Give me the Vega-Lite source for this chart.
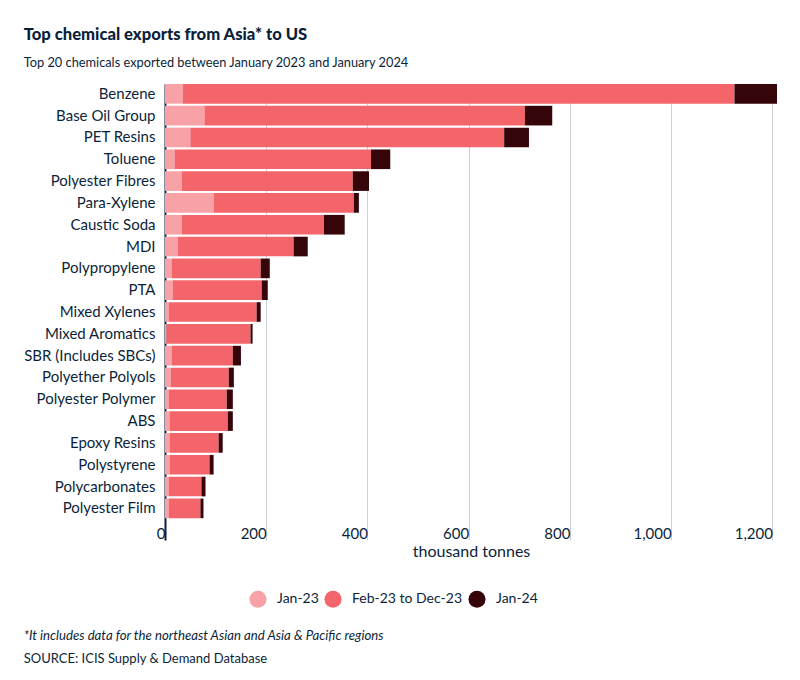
{
  "$schema": "https://vega.github.io/schema/vega-lite/v6.json",
  "background": "white",
  "padding": {"left": 23, "top": 26, "right": 10, "bottom": 10},
  "config": {
    "font": "Lato",
    "view": {"stroke": null},
    "title": {"color": "#0b1f3a"}
  },
  "title": {
    "text": "Top chemical exports from Asia* to US",
    "subtitle": "Top 20 chemicals exported between January 2023 and January 2024",
    "anchor": "start",
    "frame": "bounds",
    "fontSize": 16.6,
    "fontWeight": 900,
    "color": "#0b1f3a",
    "subtitleFontSize": 12.8,
    "subtitleColor": "#0b1f3a",
    "subtitlePadding": 14,
    "offset": 14
  },
  "vconcat": [
    {
      "width": 612,
      "height": 456,
      "title": {
        "text": "*It includes data for the northeast Asian and Asia & Pacific regions",
        "subtitle": "SOURCE: ICIS Supply & Demand Database",
        "orient": "bottom",
        "anchor": "start",
        "frame": "bounds",
        "fontSize": 13.2,
        "fontStyle": "italic",
        "fontWeight": "normal",
        "color": "#0b1f3a",
        "subtitleFontSize": 13,
        "subtitleColor": "#0b1f3a",
        "subtitlePadding": 10,
        "offset": 71
      },
      "data": {
        "values": [
          {"chemical": "Benzene", "period": "Jan-23", "k": 1, "value": 35},
          {"chemical": "Benzene", "period": "Feb-23 to Dec-23", "k": 2, "value": 1090},
          {"chemical": "Benzene", "period": "Jan-24", "k": 3, "value": 84},
          {"chemical": "Base Oil Group", "period": "Jan-23", "k": 1, "value": 78},
          {"chemical": "Base Oil Group", "period": "Feb-23 to Dec-23", "k": 2, "value": 633},
          {"chemical": "Base Oil Group", "period": "Jan-24", "k": 3, "value": 54},
          {"chemical": "PET Resins", "period": "Jan-23", "k": 1, "value": 50},
          {"chemical": "PET Resins", "period": "Feb-23 to Dec-23", "k": 2, "value": 620},
          {"chemical": "PET Resins", "period": "Jan-24", "k": 3, "value": 49},
          {"chemical": "Toluene", "period": "Jan-23", "k": 1, "value": 19},
          {"chemical": "Toluene", "period": "Feb-23 to Dec-23", "k": 2, "value": 388},
          {"chemical": "Toluene", "period": "Jan-24", "k": 3, "value": 38},
          {"chemical": "Polyester Fibres", "period": "Jan-23", "k": 1, "value": 33},
          {"chemical": "Polyester Fibres", "period": "Feb-23 to Dec-23", "k": 2, "value": 338},
          {"chemical": "Polyester Fibres", "period": "Jan-24", "k": 3, "value": 32},
          {"chemical": "Para-Xylene", "period": "Jan-23", "k": 1, "value": 96},
          {"chemical": "Para-Xylene", "period": "Feb-23 to Dec-23", "k": 2, "value": 277},
          {"chemical": "Para-Xylene", "period": "Jan-24", "k": 3, "value": 10},
          {"chemical": "Caustic Soda", "period": "Jan-23", "k": 1, "value": 33},
          {"chemical": "Caustic Soda", "period": "Feb-23 to Dec-23", "k": 2, "value": 281},
          {"chemical": "Caustic Soda", "period": "Jan-24", "k": 3, "value": 41},
          {"chemical": "MDI", "period": "Jan-23", "k": 1, "value": 25},
          {"chemical": "MDI", "period": "Feb-23 to Dec-23", "k": 2, "value": 229},
          {"chemical": "MDI", "period": "Jan-24", "k": 3, "value": 28},
          {"chemical": "Polypropylene", "period": "Jan-23", "k": 1, "value": 13},
          {"chemical": "Polypropylene", "period": "Feb-23 to Dec-23", "k": 2, "value": 176},
          {"chemical": "Polypropylene", "period": "Jan-24", "k": 3, "value": 18},
          {"chemical": "PTA", "period": "Jan-23", "k": 1, "value": 15},
          {"chemical": "PTA", "period": "Feb-23 to Dec-23", "k": 2, "value": 176},
          {"chemical": "PTA", "period": "Jan-24", "k": 3, "value": 12},
          {"chemical": "Mixed Xylenes", "period": "Jan-23", "k": 1, "value": 7},
          {"chemical": "Mixed Xylenes", "period": "Feb-23 to Dec-23", "k": 2, "value": 174},
          {"chemical": "Mixed Xylenes", "period": "Jan-24", "k": 3, "value": 8},
          {"chemical": "Mixed Aromatics", "period": "Jan-23", "k": 1, "value": 3},
          {"chemical": "Mixed Aromatics", "period": "Feb-23 to Dec-23", "k": 2, "value": 166},
          {"chemical": "Mixed Aromatics", "period": "Jan-24", "k": 3, "value": 4},
          {"chemical": "SBR (Includes SBCs)", "period": "Jan-23", "k": 1, "value": 13},
          {"chemical": "SBR (Includes SBCs)", "period": "Feb-23 to Dec-23", "k": 2, "value": 121},
          {"chemical": "SBR (Includes SBCs)", "period": "Jan-24", "k": 3, "value": 16},
          {"chemical": "Polyether Polyols", "period": "Jan-23", "k": 1, "value": 11},
          {"chemical": "Polyether Polyols", "period": "Feb-23 to Dec-23", "k": 2, "value": 115},
          {"chemical": "Polyether Polyols", "period": "Jan-24", "k": 3, "value": 10},
          {"chemical": "Polyester Polymer", "period": "Jan-23", "k": 1, "value": 7},
          {"chemical": "Polyester Polymer", "period": "Feb-23 to Dec-23", "k": 2, "value": 115},
          {"chemical": "Polyester Polymer", "period": "Jan-24", "k": 3, "value": 12},
          {"chemical": "ABS", "period": "Jan-23", "k": 1, "value": 9},
          {"chemical": "ABS", "period": "Feb-23 to Dec-23", "k": 2, "value": 115},
          {"chemical": "ABS", "period": "Jan-24", "k": 3, "value": 10},
          {"chemical": "Epoxy Resins", "period": "Jan-23", "k": 1, "value": 9},
          {"chemical": "Epoxy Resins", "period": "Feb-23 to Dec-23", "k": 2, "value": 97},
          {"chemical": "Epoxy Resins", "period": "Jan-24", "k": 3, "value": 8},
          {"chemical": "Polystyrene", "period": "Jan-23", "k": 1, "value": 9},
          {"chemical": "Polystyrene", "period": "Feb-23 to Dec-23", "k": 2, "value": 79},
          {"chemical": "Polystyrene", "period": "Jan-24", "k": 3, "value": 8},
          {"chemical": "Polycarbonates", "period": "Jan-23", "k": 1, "value": 7},
          {"chemical": "Polycarbonates", "period": "Feb-23 to Dec-23", "k": 2, "value": 65},
          {"chemical": "Polycarbonates", "period": "Jan-24", "k": 3, "value": 8},
          {"chemical": "Polyester Film", "period": "Jan-23", "k": 1, "value": 7},
          {"chemical": "Polyester Film", "period": "Feb-23 to Dec-23", "k": 2, "value": 63},
          {"chemical": "Polyester Film", "period": "Jan-24", "k": 3, "value": 6}
        ]
      },
      "mark": {"type": "bar"},
      "encoding": {
        "y": {
          "field": "chemical",
          "type": "nominal",
          "scale": {
            "domain": ["Benzene", "Base Oil Group", "PET Resins", "Toluene", "Polyester Fibres", "Para-Xylene", "Caustic Soda", "MDI", "Polypropylene", "PTA", "Mixed Xylenes", "Mixed Aromatics", "SBR (Includes SBCs)", "Polyether Polyols", "Polyester Polymer", "ABS", "Epoxy Resins", "Polystyrene", "Polycarbonates", "Polyester Film", " "],
            "paddingInner": 0.1,
            "paddingOuter": 0
          },
          "axis": {
            "title": null,
            "ticks": false,
            "labelPadding": 10,
            "labelFontSize": 15,
            "labelColor": "#0b1f3a",
            "domain": true,
            "domainColor": "#0b1f3a",
            "domainWidth": 2,
            "grid": false
          }
        },
        "x": {
          "field": "value",
          "type": "quantitative",
          "stack": "zero",
          "scale": {"domain": [0, 1209], "nice": false},
          "axis": {
            "title": "thousand tonnes",
            "titleFontSize": 16,
            "titleFontWeight": "normal",
            "titleColor": "#0b1f3a",
            "titlePadding": 2,
            "values": [0, 200, 400, 600, 800, 1000, 1200],
            "format": ",d",
            "domain": false,
            "ticks": false,
            "grid": true,
            "gridColor": "#ccd0d8",
            "gridWidth": 1,
            "labelAlign": "right",
            "labelDx": -6,
            "labelBaseline": "top",
            "labelPadding": -14,
            "labelFontSize": 15,
            "labelColor": "#0b1f3a",
            "labelFlush": false
          }
        },
        "color": {
          "field": "period",
          "type": "nominal",
          "scale": {
            "domain": ["Jan-23", "Feb-23 to Dec-23", "Jan-24"],
            "range": ["#f8a1a6", "#f3646b", "#36050a"]
          },
          "legend": {
            "title": null,
            "orient": "none",
            "direction": "horizontal",
            "legendX": 84,
            "legendY": 506,
            "symbolType": "circle",
            "symbolSize": 290,
            "symbolStrokeWidth": 0,
            "labelFontSize": 14,
            "labelColor": "#0b1f3a",
            "columnPadding": 5,
            "labelOffset": 10
          }
        },
        "order": {"field": "k", "type": "quantitative"}
      }
    }
  ]
}
